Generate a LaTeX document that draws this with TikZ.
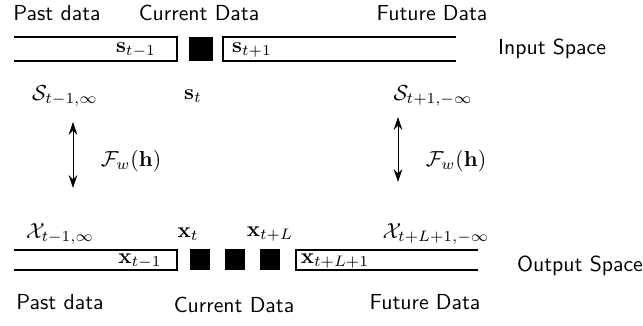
\documentclass[tikz,border=0pt]{standalone}
\usetikzlibrary{arrows.meta}
\tikzset{
    txt/.style={font=\sffamily},
    strip/.style={line width=0.5pt},
    dbl/.style={<->, >={Stealth[length=6pt,width=4pt,inset=2pt]}, thin}
}
\begin{document}
\begin{tikzpicture}[x=0.46pt,y=-0.46pt]
    \useasboundingbox (0,0) rectangle (643,326);
    % Headings of the input space
    \node[txt] (pastin) at (57,13) {Past data};
    \node[txt] (curin) at (199,13) {Current Data};
    \node[txt] (futin) at (432,13) {Future Data};
    \node[txt] (inspace) at (552,49) {Input Space};
    % Input strip
    \draw[strip] (14,37) -- (177,37) -- (177,61) -- (14,61);
    \fill (189,37) rectangle (213,61);
    \draw[strip] (456,37) -- (223,37) -- (223,61) -- (456,61);
    \node (sprev) at (136,50) {$\mathbf{s}_{t-1}$};
    \node (snext) at (252,50) {$\mathbf{s}_{t+1}$};
    % Input sets
    \node (spast) at (65,96) {$\mathcal{S}_{t-1,\infty}$};
    \node (scur) at (193,96) {$\mathbf{s}_t$};
    \node (sfut) at (433,96) {$\mathcal{S}_{t+1,-\infty}$};
    % Mappings
    \coordinate (la) at (73,122);
    \coordinate (lb) at (73,188);
    \coordinate (ra) at (398,117);
    \coordinate (rb) at (398,182);
    \draw[dbl] (la) -- (lb);
    \draw[dbl] (ra) -- (rb);
    \node (fleft) at (131,161) {$\mathcal{F}_w(\mathbf{h})$};
    \node (fright) at (456,161) {$\mathcal{F}_w(\mathbf{h})$};
    % Output sets
    \node (xpast) at (60,234) {$\mathcal{X}_{t-1,\infty}$};
    \node (xcur) at (188,234) {$\mathbf{x}_t$};
    \node (xlast) at (270,234) {$\mathbf{x}_{t+L}$};
    \node (xfut) at (436,234) {$\mathcal{X}_{t+L+1,-\infty}$};
    % Output strip
    \draw[strip] (14,250) -- (177,250) -- (177,270) -- (14,270);
    \foreach \x in {190,225,260}{
        \fill (\x,249) rectangle (\x+20,270);
    }
    \draw[strip] (478,250) -- (296,250) -- (296,270) -- (478,270);
    \node (xprev) at (140,261) {$\mathbf{x}_{t-1}$};
    \node (xnext) at (335,261) {$\mathbf{x}_{t+L+1}$};
    \node[txt] (outspace) at (580,266) {Output Space};
    % Headings of the output space
    \node[txt] (pastout) at (60,302) {Past data};
    \node[txt] (curout) at (234,305) {Current Data};
    \node[txt] (futout) at (425,302) {Future Data};
\end{tikzpicture}
\end{document}
